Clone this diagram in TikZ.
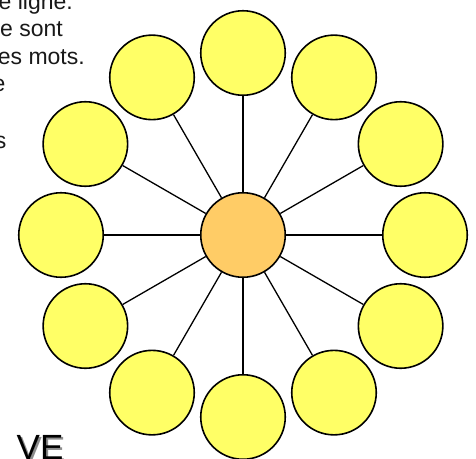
\documentclass[tikz,border=0pt]{standalone}
\usepackage{fontspec}
\setmainfont{Liberation Sans}
\definecolor{petalyellow}{HTML}{FFFF66}
\definecolor{huborange}{HTML}{FFCC66}
\begin{document}
\begin{tikzpicture}[x=1pt,y=-1pt,
 petal/.style={circle,draw=black,line width=1.6pt,fill=petalyellow,minimum size=84.5pt,inner sep=0pt},
 hub/.style={circle,draw=black,line width=1.6pt,fill=huborange,minimum size=84.5pt,inner sep=0pt},
 spoke/.style={draw=black,line width=1.3pt},
 body/.style={font=\fontsize{23}{27}\selectfont,text=black!90,inner sep=0pt,anchor=base east},
 title/.style={font=\fontsize{35}{35}\selectfont,inner sep=0pt,anchor=base west}]
\useasboundingbox (0,0) rectangle (476,458);
\node[hub] (hub) at (243,235) {};
\foreach \i in {0,...,11}{
  \node[petal] (p\i) at ({243+182*cos(30*\i)},{235-182*sin(30*\i)}) {};
}
\foreach \i in {0,...,11}{
  \draw[spoke] (hub) -- (p\i);
}
\node[body] (t1) at (73,9) {e ligne.};
\node[body] (t2) at (63,36.7) {e sont};
\node[body] (t3) at (85,64) {es mots.};
\node[body] (t4) at (5.5,91.7) {e};
\node[body] (t6) at (6.5,148) {s};
\node[title,text=black!45] (vs) at (18.5,461.5) {VE};
\node[title,text=black] (v) at (16.5,459.5) {VE};
\end{tikzpicture}
\end{document}
